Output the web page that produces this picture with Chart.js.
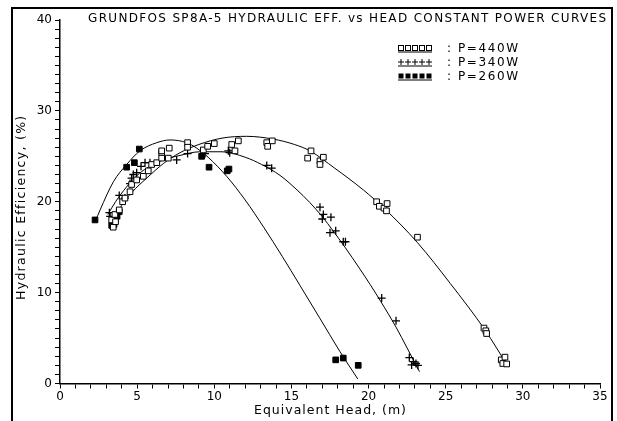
<!DOCTYPE html>
<html>
<head>
<meta charset="utf-8">
<script src="https://cdn.jsdelivr.net/npm/chart.js@4"></script>
<style>
  html, body { margin: 0; padding: 0; background: #fff; }
  canvas { display: block; }
</style>
</head>
<body>
<canvas id="effChart" width="617" height="421"></canvas>
<script>
const TITLE = 'GRUNDFOS SP8A-5 HYDRAULIC EFF. vs HEAD CONSTANT POWER CURVES';
const X_TITLE = 'Equivalent Head, (m)';
const Y_TITLE = 'Hydraulic Efficiency, (%)';
const LEGEND_LABELS = ['P=440W', 'P=340W', 'P=260W'];
const X_LABEL_STEP = 5;
const Y_LABEL_STEP = 10;

// measured points, P = 440 W
const head440 = [3.35, 3.45, 3.56, 3.6, 3.84, 4.06, 4.21, 4.54, 4.64, 4.97, 5.40, 5.72, 5.94, 6.27, 6.59, 6.59, 6.59, 7.02, 7.08, 8.27, 8.27, 9.29, 9.57, 10.00, 11.13, 11.34, 11.56, 13.40, 13.46, 13.76, 16.05, 16.27, 16.85, 16.85, 17.07, 20.52, 20.70, 21.00, 21.16, 21.20, 23.17, 27.48, 27.60, 27.65, 28.60, 28.70, 28.84, 28.95];
const eff440 = [18.0, 17.2, 18.6, 17.8, 19.1, 20.0, 20.4, 21.1, 21.9, 22.4, 22.8, 23.4, 24.1, 24.3, 25.4, 24.8, 25.6, 24.8, 25.9, 26.5, 26.0, 25.7, 26.1, 26.4, 26.3, 25.6, 26.7, 26.5, 26.1, 26.7, 24.8, 25.6, 24.5, 24.1, 24.9, 20.0, 19.5, 19.3, 19.0, 19.8, 16.1, 6.1, 5.8, 5.5, 2.6, 2.2, 2.9, 2.15];

// measured points, P = 340 W
const head340 = [3.20, 3.25, 3.84, 4.21, 4.54, 4.64, 4.75, 4.97, 5.25, 5.51, 5.83, 7.56, 8.27, 9.40, 10.91, 11.00, 13.40, 13.72, 16.85, 17.00, 17.07, 17.50, 17.56, 17.87, 18.36, 18.50, 20.85, 21.78, 22.64, 22.79, 22.90, 23.07, 23.20];
const eff340 = [18.8, 18.4, 20.7, 20.4, 22.0, 22.6, 23.0, 23.2, 23.9, 24.3, 24.3, 24.6, 25.3, 25.3, 25.6, 25.4, 24.0, 23.7, 19.4, 18.1, 18.6, 16.6, 18.3, 16.8, 15.6, 15.6, 9.4, 6.9, 2.85, 2.04, 2.4, 2.2, 2.0];

// measured points, P = 260 W
const head260 = [2.27, 3.35, 3.45, 3.50, 3.60, 3.70, 3.84, 4.32, 4.82, 5.14, 9.18, 9.66, 10.84, 10.95, 17.87, 18.36, 19.33];
const eff260 = [18.0, 17.4, 17.7, 17.5, 18.1, 18.4, 18.9, 23.8, 24.3, 25.8, 25.0, 23.8, 23.4, 23.6, 2.6, 2.8, 2.0];

// fitted curves
const fitHead440 = [3.35, 4.0, 4.64, 5.62, 6.7, 7.78, 9.0, 10.5, 12.1, 13.8, 15.2, 16.2, 17.8, 19.66, 21.06, 23.17, 25.3, 27.54, 29.05];
const fitEff440 = [17.5, 19.6, 21.0, 22.6, 24.2, 25.4, 26.3, 27.0, 27.2, 26.9, 26.3, 25.6, 23.7, 21.3, 19.2, 15.5, 11.0, 5.9, 1.85];
const fitHead340 = [3.1, 3.6, 4.3, 5.0, 5.62, 6.7, 7.78, 9.07, 10.5, 12.0, 13.07, 14.26, 15.3, 16.2, 16.98, 17.7, 18.47, 19.4, 20.1, 20.8, 21.78, 22.5, 23.3];
const fitEff340 = [18.6, 20.0, 21.6, 22.9, 23.7, 24.6, 25.1, 25.5, 25.5, 24.9, 24.1, 22.9, 21.4, 19.9, 18.4, 16.8, 15.0, 12.7, 10.9, 9.0, 6.2, 3.9, 1.3];
const fitHead260 = [2.3, 2.6, 3.46, 4.32, 5.18, 6.27, 7.13, 8.21, 8.86, 9.6, 10.8, 12.0, 13.2, 14.4, 15.55, 16.8, 18.15, 19.3];
const fitEff260 = [17.9, 19.1, 22.2, 24.1, 25.6, 26.5, 26.8, 26.5, 25.9, 24.9, 22.8, 20.2, 17.2, 14.0, 10.8, 7.3, 3.5, 0.5];

const FONT = '"DejaVu Sans", "Liberation Sans", sans-serif';
Chart.defaults.font.family = FONT;
Chart.defaults.font.size = 12;
Chart.defaults.color = '#000';

const toXY = (xs, ys) => xs.map((x, i) => ({ x: x, y: ys[i] }));

const markerStyles = [
  { pointStyle: 'rect', pointRadius: 4, pointBackgroundColor: '#fff', pointBorderColor: '#000', pointBorderWidth: 1 },
  { pointStyle: 'cross', pointRadius: 4, pointBackgroundColor: '#000', pointBorderColor: '#000', pointBorderWidth: 1.3 },
  { pointStyle: 'rect', pointRadius: 4, pointBackgroundColor: '#000', pointBorderColor: '#000', pointBorderWidth: 1 }
];

const pointSets = [toXY(head440, eff440), toXY(head340, eff340), toXY(head260, eff260)];
const curveSets = [toXY(fitHead440, fitEff440), toXY(fitHead340, fitEff340), toXY(fitHead260, fitEff260)];

const datasets = [];
curveSets.forEach((data, i) => {
  datasets.push({ label: LEGEND_LABELS[i] + ' fit', data: data, showLine: true, borderColor: '#000', borderWidth: 1, pointRadius: 0, cubicInterpolationMode: 'monotone', order: 2 });
});
pointSets.forEach((data, i) => {
  datasets.push(Object.assign({ label: LEGEND_LABELS[i], data: data, showLine: false, order: 1 }, markerStyles[i]));
});

function drawLegendMarker(ctx, kind, x, y) {
  if (kind === 0) {
    ctx.fillStyle = '#fff';
    ctx.fillRect(x - 2.5, y - 2.5, 5, 5);
    ctx.strokeRect(x - 2.5, y - 2.5, 5, 5);
  } else if (kind === 1) {
    ctx.beginPath();
    ctx.moveTo(x - 3, y); ctx.lineTo(x + 3, y);
    ctx.moveTo(x, y - 3); ctx.lineTo(x, y + 3);
    ctx.stroke();
  } else {
    ctx.fillStyle = '#000';
    ctx.fillRect(x - 2.5, y - 2.5, 5, 5);
  }
}

// text stretched to a given width with letter spacing (plotter font look)
function spacedText(ctx, text, x, y, width) {
  const natural = ctx.measureText(text).width;
  const gap = (width - natural) / (text.length - 1);
  if ('letterSpacing' in ctx && gap > 0) {
    ctx.letterSpacing = gap + 'px';
    ctx.fillText(text, x, y);
    ctx.letterSpacing = '0px';
  } else {
    ctx.fillText(text, x, y);
  }
}

const decorPlugin = {
  id: 'decor',
  afterDraw(chart) {
    const ctx = chart.ctx;
    const area = chart.chartArea;
    ctx.save();
    ctx.strokeStyle = '#000';
    ctx.lineWidth = 2;
    ctx.beginPath();
    ctx.moveTo(12, 421); ctx.lineTo(12, 8); ctx.lineTo(612, 8); ctx.lineTo(612, 421);
    ctx.stroke();

    ctx.fillStyle = '#000';
    ctx.font = '12px ' + FONT;
    ctx.textBaseline = 'alphabetic';
    ctx.textAlign = 'left';
    spacedText(ctx, TITLE, 88, 22, 518);

    // axis titles
    ctx.font = '12.5px ' + FONT;
    ctx.textBaseline = 'middle';
    const xw = 152;
    spacedText(ctx, X_TITLE, (area.left + area.right) / 2 - xw / 2, 411, xw);
    const yw = 184;
    ctx.save();
    ctx.translate(22, 208);
    ctx.rotate(-Math.PI / 2);
    spacedText(ctx, Y_TITLE, -yw / 2, 0, yw);
    ctx.restore();

    ctx.font = '12px ' + FONT;
    ctx.lineWidth = 1;
    LEGEND_LABELS.forEach((label, i) => {
      const y = 48 + i * 14;
      ctx.strokeStyle = '#000';
      ctx.beginPath();
      ctx.moveTo(398, y + 4); ctx.lineTo(432, y + 4);
      ctx.stroke();
      for (let k = 0; k < 5; k++) drawLegendMarker(ctx, i, 401 + k * 7, y);
      ctx.fillStyle = '#000';
      ctx.textBaseline = 'middle';
      spacedText(ctx, ':', 447, y + 1, 4);
      spacedText(ctx, label, 458, y + 1, 60);
    });
    ctx.restore();
  }
};

new Chart(document.getElementById('effChart'), {
  type: 'scatter',
  data: { datasets: datasets },
  options: {
    responsive: false,
    animation: false,
    layout: { padding: { top: 20, right: 17, bottom: 0, left: 0 } },
    plugins: { legend: { display: false }, tooltip: { enabled: false } },
    scales: {
      x: {
        type: 'linear', min: 0, max: 35,
        afterFit: (scale) => { scale.height = 37.5; },
        ticks: { stepSize: 1, autoSkip: false, maxRotation: 0, padding: 1,
          callback: (v) => (v % X_LABEL_STEP === 0 ? v : '') },
        grid: { drawOnChartArea: false, drawTicks: true, tickLength: 5, color: '#000' },
        border: { color: '#000', width: 1.5 },
        title: { display: false }
      },
      y: {
        type: 'linear', min: 0, max: 40,
        afterFit: (scale) => { scale.width = 60; },
        ticks: { stepSize: 1, autoSkip: false, padding: 3,
          callback: (v) => (v % Y_LABEL_STEP === 0 ? v : '') },
        grid: { drawOnChartArea: false, drawTicks: true, tickLength: 5, color: '#000' },
        border: { color: '#000', width: 1.5 },
        title: { display: false }
      }
    }
  },
  plugins: [decorPlugin]
});
</script>
</body>
</html>
